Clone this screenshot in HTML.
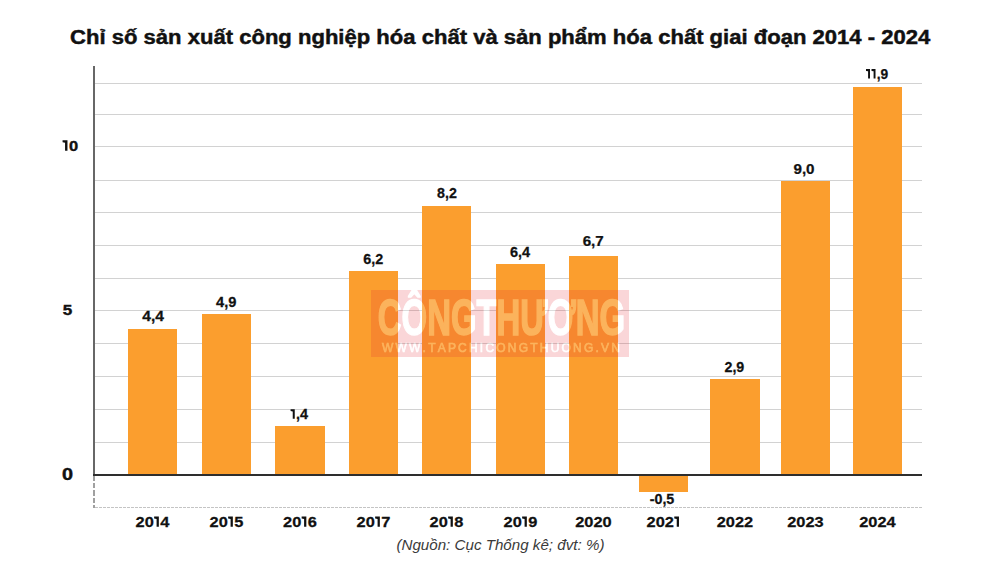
<!DOCTYPE html>
<html><head><meta charset="utf-8"><title>chart</title>
<style>
html,body{margin:0;padding:0;background:#fff;}
body{width:1000px;height:562px;overflow:hidden;position:relative;}
svg{position:absolute;left:0;top:0;}
text{font-family:"Liberation Sans",sans-serif;font-kerning:none;}
</style></head><body>
<svg width="1000" height="562" viewBox="0 0 1000 562" shape-rendering="crispEdges">
<rect x="0" y="0" width="1000" height="562" fill="#fff"/>
<rect x="95" y="442" width="827" height="1" fill="#d2d2d2"/>
<rect x="95" y="409" width="827" height="1" fill="#d2d2d2"/>
<rect x="95" y="376" width="827" height="1" fill="#d2d2d2"/>
<rect x="95" y="343" width="827" height="1" fill="#d2d2d2"/>
<rect x="95" y="310" width="827" height="1" fill="#d2d2d2"/>
<rect x="95" y="278" width="827" height="1" fill="#d2d2d2"/>
<rect x="95" y="245" width="827" height="1" fill="#d2d2d2"/>
<rect x="95" y="212" width="827" height="1" fill="#d2d2d2"/>
<rect x="95" y="180" width="827" height="1" fill="#d2d2d2"/>
<rect x="95" y="146" width="827" height="1" fill="#d2d2d2"/>
<rect x="95" y="114" width="827" height="1" fill="#d2d2d2"/>
<rect x="95" y="83" width="827" height="1" fill="#d2d2d2"/>
<rect x="128" y="329" width="49" height="147" fill="#FB9E2E"/>
<rect x="202" y="314" width="49" height="162" fill="#FB9E2E"/>
<rect x="275" y="426" width="50" height="50" fill="#FB9E2E"/>
<rect x="349" y="271" width="49" height="205" fill="#FB9E2E"/>
<rect x="422" y="206" width="49" height="270" fill="#FB9E2E"/>
<rect x="496" y="264" width="49" height="212" fill="#FB9E2E"/>
<rect x="569" y="256" width="49" height="220" fill="#FB9E2E"/>
<rect x="639" y="476" width="49" height="15.5" fill="#FB9E2E"/>
<rect x="710" y="379" width="50" height="97" fill="#FB9E2E"/>
<rect x="781" y="181" width="49" height="295" fill="#FB9E2E"/>
<rect x="853" y="87" width="49" height="389" fill="#FB9E2E"/>
<rect x="93" y="66" width="2" height="408" fill="#676767"/>
<rect x="93" y="476.0" width="2" height="5.2" fill="#a0a0a0"/>
<rect x="93" y="483.2" width="2" height="5.2" fill="#a0a0a0"/>
<rect x="93" y="490.4" width="2" height="5.2" fill="#a0a0a0"/>
<rect x="93" y="497.6" width="2" height="5.2" fill="#a0a0a0"/>
<rect x="93" y="504.8" width="2" height="3.2" fill="#a0a0a0"/>
<line x1="95" y1="507.5" x2="922" y2="507.5" stroke="#c4c4c4" stroke-width="1" stroke-dasharray="2.5 1.5"/>
<rect x="93" y="474" width="829" height="2" fill="#2e2e2e"/>
</svg>
<svg width="1000" height="562" viewBox="0 0 1000 562">
<text transform="translate(500.15,44.0) scale(1.1155,1)" text-anchor="middle" font-weight="bold" font-size="19.77" fill="#111" stroke="#111" stroke-width="0.45">Chỉ số sản xuất công nghiệp hóa chất và sản phẩm hóa chất giai đoạn 2014 - 2024</text>
<g transform="translate(62.30,150.80) scale(1.0930,1)" fill="#111"><path d="M2.52 -10.59H4.73V0H2.52V-7.97L0.25 -8.43V-10.59Z"/><text x="6.04" y="0" font-weight="bold" font-size="15.1" stroke="#111" stroke-width="0.4">0</text></g>
<g transform="translate(62.70,315.00) scale(1.1288,1)" fill="#111"><text x="0.00" y="0" font-weight="bold" font-size="15.1" stroke="#111" stroke-width="0.4">5</text></g>
<g transform="translate(62.10,479.90) scale(1.2119,1)" fill="#111"><text x="0.00" y="0" font-weight="bold" font-size="16.4" stroke="#111" stroke-width="0.4">0</text></g>
<g transform="translate(153.10,321.10) scale(1.1303,1)" fill="#111"><text x="-9.59" y="0" font-weight="bold" font-size="13.8" stroke="#111" stroke-width="0.25">4,4</text></g>
<g transform="translate(226.20,306.50) scale(1.0636,1)" fill="#111"><text x="-9.59" y="0" font-weight="bold" font-size="13.8" stroke="#111" stroke-width="0.25">4,9</text></g>
<g transform="translate(299.20,418.80) scale(1.0480,1)" fill="#111"><path d="M-6.16 -9.62H-4.25V0H-6.16V-7.29L-8.23 -7.70V-9.62Z"/><text x="-2.99" y="0" font-weight="bold" font-size="13.8" stroke="#111" stroke-width="0.25">,4</text></g>
<g transform="translate(373.20,264.10) scale(1.0417,1)" fill="#111"><text x="-9.59" y="0" font-weight="bold" font-size="13.8" stroke="#111" stroke-width="0.25">6,2</text></g>
<g transform="translate(446.90,198.00) scale(1.0320,1)" fill="#111"><text x="-9.59" y="0" font-weight="bold" font-size="13.8" stroke="#111" stroke-width="0.25">8,2</text></g>
<g transform="translate(520.10,256.70) scale(1.0478,1)" fill="#111"><text x="-9.59" y="0" font-weight="bold" font-size="13.8" stroke="#111" stroke-width="0.25">6,4</text></g>
<g transform="translate(593.20,246.00) scale(1.1019,1)" fill="#111"><text x="-9.59" y="0" font-weight="bold" font-size="13.8" stroke="#111" stroke-width="0.25">6,7</text></g>
<g transform="translate(662.00,504.30) scale(1.0362,1)" fill="#111"><text x="-11.89" y="0" font-weight="bold" font-size="13.8" stroke="#111" stroke-width="0.25">-0,5</text></g>
<g transform="translate(734.40,371.80) scale(1.0342,1)" fill="#111"><text x="-9.59" y="0" font-weight="bold" font-size="13.8" stroke="#111" stroke-width="0.25">2,9</text></g>
<g transform="translate(804.00,174.40) scale(1.1000,1)" fill="#111"><text x="-9.59" y="0" font-weight="bold" font-size="13.8" stroke="#111" stroke-width="0.25">9,0</text></g>
<g transform="translate(877.00,78.60) scale(1.0000,1)" fill="#111"><path d="M-8.92 -9.62H-7.01V0H-8.92V-7.29L-10.99 -7.70V-9.62Z"/><path d="M-3.40 -9.62H-1.49V0H-3.40V-7.29L-5.47 -7.70V-9.62Z"/><text x="-0.23" y="0" font-weight="bold" font-size="13.8" stroke="#111" stroke-width="0.25">,9</text></g>
<g transform="translate(152.50,526.70) scale(1.1093,1)" fill="#111"><text x="-15.31" y="0" font-weight="bold" font-size="14.8" stroke="#111" stroke-width="0.25">20</text><path d="M3.69 -10.31H5.72V0H3.69V-7.81L1.47 -8.26V-10.31Z"/><text x="7.08" y="0" font-weight="bold" font-size="14.8" stroke="#111" stroke-width="0.25">4</text></g>
<g transform="translate(226.50,526.70) scale(1.1093,1)" fill="#111"><text x="-15.31" y="0" font-weight="bold" font-size="14.8" stroke="#111" stroke-width="0.25">20</text><path d="M3.69 -10.31H5.72V0H3.69V-7.81L1.47 -8.26V-10.31Z"/><text x="7.08" y="0" font-weight="bold" font-size="14.8" stroke="#111" stroke-width="0.25">5</text></g>
<g transform="translate(300.00,526.70) scale(1.1093,1)" fill="#111"><text x="-15.31" y="0" font-weight="bold" font-size="14.8" stroke="#111" stroke-width="0.25">20</text><path d="M3.69 -10.31H5.72V0H3.69V-7.81L1.47 -8.26V-10.31Z"/><text x="7.08" y="0" font-weight="bold" font-size="14.8" stroke="#111" stroke-width="0.25">6</text></g>
<g transform="translate(373.50,526.70) scale(1.1093,1)" fill="#111"><text x="-15.31" y="0" font-weight="bold" font-size="14.8" stroke="#111" stroke-width="0.25">20</text><path d="M3.69 -10.31H5.72V0H3.69V-7.81L1.47 -8.26V-10.31Z"/><text x="7.08" y="0" font-weight="bold" font-size="14.8" stroke="#111" stroke-width="0.25">7</text></g>
<g transform="translate(446.50,526.70) scale(1.1093,1)" fill="#111"><text x="-15.31" y="0" font-weight="bold" font-size="14.8" stroke="#111" stroke-width="0.25">20</text><path d="M3.69 -10.31H5.72V0H3.69V-7.81L1.47 -8.26V-10.31Z"/><text x="7.08" y="0" font-weight="bold" font-size="14.8" stroke="#111" stroke-width="0.25">8</text></g>
<g transform="translate(520.50,526.70) scale(1.1093,1)" fill="#111"><text x="-15.31" y="0" font-weight="bold" font-size="14.8" stroke="#111" stroke-width="0.25">20</text><path d="M3.69 -10.31H5.72V0H3.69V-7.81L1.47 -8.26V-10.31Z"/><text x="7.08" y="0" font-weight="bold" font-size="14.8" stroke="#111" stroke-width="0.25">9</text></g>
<g transform="translate(593.50,526.70) scale(1.1093,1)" fill="#111"><text x="-16.46" y="0" font-weight="bold" font-size="14.8" stroke="#111" stroke-width="0.25">2020</text></g>
<g transform="translate(663.50,526.70) scale(1.1093,1)" fill="#111"><text x="-15.31" y="0" font-weight="bold" font-size="14.8" stroke="#111" stroke-width="0.25">202</text><path d="M11.93 -10.31H13.95V0H11.93V-7.81L9.71 -8.26V-10.31Z"/></g>
<g transform="translate(735.00,526.70) scale(1.1093,1)" fill="#111"><text x="-16.46" y="0" font-weight="bold" font-size="14.8" stroke="#111" stroke-width="0.25">2022</text></g>
<g transform="translate(805.50,526.70) scale(1.1093,1)" fill="#111"><text x="-16.46" y="0" font-weight="bold" font-size="14.8" stroke="#111" stroke-width="0.25">2023</text></g>
<g transform="translate(877.50,526.70) scale(1.1093,1)" fill="#111"><text x="-16.46" y="0" font-weight="bold" font-size="14.8" stroke="#111" stroke-width="0.25">2024</text></g>
<text transform="translate(500.4,549.8) scale(1.084,1)" text-anchor="middle" font-style="italic" font-size="14" fill="#3a3a3a">(Nguồn: Cục Thống kê; đvt: %)</text>
</svg>
<svg style="left:371px;top:290px" width="258" height="67" viewBox="0 0 258 67">
<defs>
<g id="wt">
<text transform="scale(0.6515,1)" x="10.5" y="44.9" font-weight="bold" font-size="50.5" stroke-width="1.5">CÔNGTHƯƠNG</text>
<text x="11" y="61.9" font-size="12" letter-spacing="2.21" stroke-width="0.6">WWW.TAPCHICONGTHUONG.VN</text>
</g>
<mask id="wmm" maskUnits="userSpaceOnUse" x="0" y="0" width="258" height="67">
<rect x="0" y="0" width="258" height="67" fill="#fff"/>
<use href="#wt" fill="#000" stroke="#000"/>
</mask>
</defs>
<rect x="0" y="0" width="258" height="67" fill="rgb(229,44,54)" fill-opacity="0.194" mask="url(#wmm)"/>
<g opacity="0.22"><use href="#wt" fill="#fff" stroke="#fff"/></g>
</svg>
</body></html>
